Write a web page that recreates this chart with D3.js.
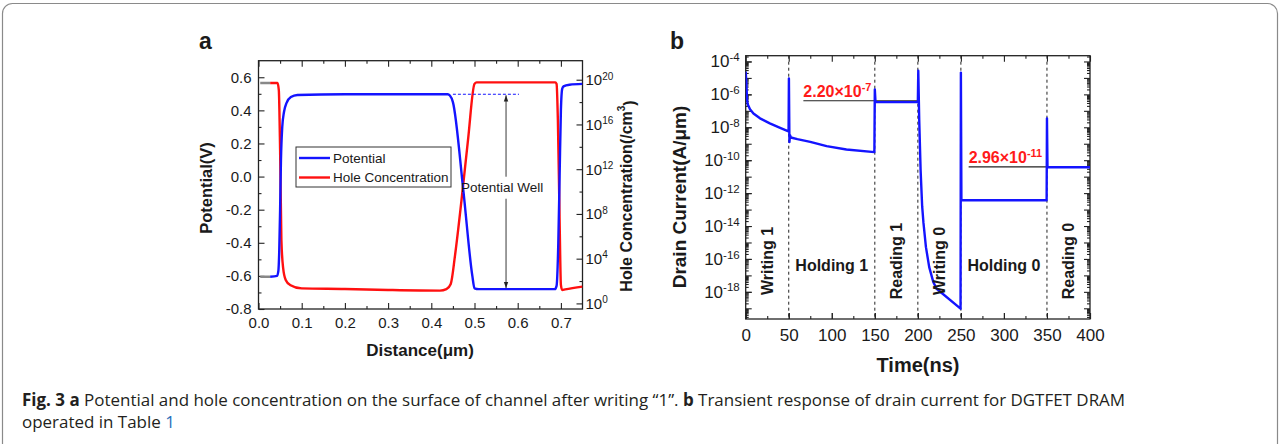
<!DOCTYPE html>
<html>
<head>
<meta charset="utf-8">
<script src="https://cdn.jsdelivr.net/npm/d3@7/dist/d3.min.js"></script>
<style>
  body { margin: 0; background: #fff; }
  svg { display: block; }
  text { font-family: Arial, "Liberation Sans", sans-serif; fill: #1a1a1a; }
</style>
</head>
<body>
<svg id="fig" width="1281" height="444"></svg>
<script>
// ---------- panel a : potential / hole concentration along the channel ----------
const potDist = [0.027, 0.043, 0.046, 0.048, 0.050, 0.052, 0.055, 0.059, 0.065, 0.075, 0.090, 0.200,
                 0.438, 0.443, 0.450, 0.474, 0.495, 0.500, 0.510, 0.686, 0.690, 0.694, 0.697, 0.700,
                 0.703, 0.706, 0.720, 0.750];
const potential = [-0.605, -0.600, -0.570, -0.450, -0.200, 0.100, 0.300, 0.390, 0.445, 0.480, 0.493, 0.497,
                   0.497, 0.490, 0.450, -0.080, -0.600, -0.675, -0.680, -0.680, -0.660, -0.400, 0.000, 0.400,
                   0.530, 0.545, 0.555, 0.560];
const holeDist = [0.027, 0.044, 0.047, 0.050, 0.053, 0.057, 0.063, 0.073, 0.100, 0.200, 0.300, 0.420,
                  0.435, 0.445, 0.455, 0.470, 0.485, 0.500, 0.505, 0.687, 0.690, 0.693, 0.697, 0.700,
                  0.703, 0.710, 0.750];
const holeConc = [5.1e19, 5.1e19, 1.2e19, 5.2e13, 4.7e5, 1.5e3, 123, 45, 22, 19.5, 16, 14,
                  19, 55, 2.1e4, 1.8e9, 4.2e14, 4.2e19, 5.8e19, 5.8e19, 4.2e19, 2.5e16, 2.9e7, 45,
                  16, 18, 32];
const sourceDist = [0.004, 0.027];
const sourceLevels = [0.565, -0.605];
const wellX = 0.573, wellTop = 0.497, wellBottom = -0.680;
const wellDash = [0.450, 0.603];
const xTicksA = [0, 0.1, 0.2, 0.3, 0.4, 0.5, 0.6, 0.7];
const xMinorA = d3.range(0.05, 0.75, 0.1);
const yTicksA = [-0.8, -0.6, -0.4, -0.2, 0, 0.2, 0.4, 0.6];
const yMinorA = [-0.7, -0.5, -0.3, -0.1, 0.1, 0.3, 0.5];
const holeExpTicks = [0, 4, 8, 12, 16, 20];
const holeExpMinor = [2, 6, 10, 14, 18];

// ---------- panel b : transient drain current ----------
const timeNs = [0, 0.8, 1.5, 2.5, 5, 9, 16.6, 28, 40, 49, 49.8, 50.2, 50.8, 51.5, 52.5, 60, 75, 94, 117, 149.5,
                150, 150.8, 200, 200.5, 201.6, 203.2, 205, 206.5, 209.4, 213.2, 217.9, 221.8, 249.6,
                250, 250.6, 349.6, 350, 350.6, 400];
const drainCurrent = [2.4e-5, 5e-6, 5e-7, 2.4e-7, 1.26e-7, 6.9e-8, 3.5e-8, 1.74e-8, 9.3e-9, 5.9e-9, 5.6e-9, 9.3e-6,
                      1.26e-9, 3.3e-9, 2.4e-9, 1.9e-9, 1.3e-9, 7.1e-10, 4.5e-10, 3.1e-10,
                      2e-6, 3.4e-7, 3.4e-7, 2.75e-5, 2.75e-8, 2.5e-11, 1.6e-13, 1.6e-14, 5.2e-16, 3.2e-17, 4e-18, 1.55e-18, 9.5e-20,
                      2.1e-5, 3.7e-13, 3.7e-13, 3.5e-8, 3.7e-11, 3.7e-11];
const phaseNames = ["Writing 1", "Holding 1", "Reading 1", "Writing 0", "Holding 0", "Reading 0"];
const phaseStart = [0, 50, 150, 200, 250, 350];
const phaseEnd = [50, 150, 200, 250, 350, 400];
const refStart = [67, 259];
const refEnd = [200, 400];
const refValue = [4.1e-7, 3.9e-11];
const refLabel = ["2.20×10", "2.96×10"];
const refExp = ["-7", "-11"];
const xTicksB = [0, 50, 100, 150, 200, 250, 300, 350, 400];
const xMinorB = [25, 75, 125, 175, 225, 275, 325, 375];
const yExpTicksB = [-18, -16, -14, -12, -10, -8, -6, -4];

const svg = d3.select("#fig");
svg.append("rect").attr("width", 1281).attr("height", 444).attr("fill", "#fff");
svg.append("rect").attr("x", 2.5).attr("y", 3.5).attr("width", 1275).attr("height", 480)
   .attr("rx", 10).attr("fill", "none").attr("stroke", "#8a8a8a").attr("stroke-width", 1.2);

const BLUE = "#1414ff", RED = "#ff1010";

// superscript labels "10^n"
function powLabel(sel, base, sup, supSize) {
  sel.text(null);
  sel.append("tspan").text(base);
  sel.append("tspan").attr("dy", "-0.55em").attr("font-size", supSize).text(sup);
}

// ===================== panel a =====================
const A = { l: 258.5, r: 582.5, t: 60.7, b: 309 };
const xA = d3.scaleLinear().domain([0, 0.75]).range([A.l, A.r]);
const yA = d3.scaleLinear().domain([-0.8, 0.7]).range([A.b, A.t]);
const yH = d3.scaleLog().domain([10 ** -0.5, 10 ** 21.7]).range([A.b, A.t]);

const ga = svg.append("g");
ga.append("defs").append("clipPath").attr("id", "clipA")
  .append("rect").attr("x", A.l).attr("y", A.t).attr("width", A.r - A.l).attr("height", A.b - A.t);

function styleAxis(g, size) {
  g.select(".domain").remove();
  g.selectAll("line").attr("stroke", "#222").attr("stroke-width", 1.1);
  g.selectAll("text").attr("font-size", size).attr("fill", "#1a1a1a")
   .attr("font-family", "Arial, 'Liberation Sans', sans-serif");
}

ga.append("g").attr("transform", `translate(${A.l},0)`)
  .call(d3.axisLeft(yA).tickValues(yTicksA).tickSize(-6).tickPadding(7).tickFormat(d => d.toFixed(1)))
  .call(g => styleAxis(g, 15));
ga.append("g").attr("transform", `translate(${A.l},0)`)
  .call(d3.axisLeft(yA).tickValues(yMinorA).tickSize(-3).tickFormat(""))
  .call(g => styleAxis(g, 15));
ga.append("g").attr("transform", `translate(0,${A.b})`)
  .call(d3.axisBottom(xA).tickValues(xTicksA).tickSize(-6).tickPadding(8.5).tickFormat(d => d.toFixed(1)))
  .call(g => styleAxis(g, 15));
ga.append("g").attr("transform", `translate(0,${A.b})`)
  .call(d3.axisBottom(xA).tickValues(xMinorA).tickSize(-3).tickFormat(""))
  .call(g => styleAxis(g, 15));
ga.append("g").attr("transform", `translate(0,${A.t})`)
  .call(d3.axisTop(xA).tickValues(xTicksA).tickSize(-6).tickFormat(""))
  .call(g => styleAxis(g, 15));
ga.append("g").attr("transform", `translate(0,${A.t})`)
  .call(d3.axisTop(xA).tickValues(xMinorA).tickSize(-3).tickFormat(""))
  .call(g => styleAxis(g, 15));
ga.append("g").attr("transform", `translate(${A.r},0)`)
  .call(d3.axisRight(yH).tickValues(holeExpTicks.map(e => 10 ** e)).tickSize(-6).tickPadding(3))
  .call(g => styleAxis(g, 15))
  .call(g => g.selectAll(".tick text").each(function (d, i) {
    powLabel(d3.select(this), "10", holeExpTicks[i], 10);
  }));
ga.append("g").attr("transform", `translate(${A.r},0)`)
  .call(d3.axisRight(yH).tickValues(holeExpMinor.map(e => 10 ** e)).tickSize(-3).tickFormat(""))
  .call(g => styleAxis(g, 15));

ga.append("rect").attr("x", A.l).attr("y", A.t).attr("width", A.r - A.l).attr("height", A.b - A.t)
  .attr("fill", "none").attr("stroke", "#222").attr("stroke-width", 1.3);

const plotA = ga.append("g").attr("clip-path", "url(#clipA)");
sourceLevels.forEach(v => {
  plotA.append("path")
    .attr("d", d3.line()(sourceDist.map(d => [xA(d), yA(v)])))
    .attr("stroke", "#888").attr("stroke-width", 2.4).attr("fill", "none");
});
plotA.append("path")
  .attr("d", d3.line().x((d, i) => xA(holeDist[i])).y(d => yH(d)).curve(d3.curveMonotoneX)(holeConc))
  .attr("stroke", RED).attr("stroke-width", 2.4).attr("fill", "none");
plotA.append("path")
  .attr("d", d3.line().x((d, i) => xA(potDist[i])).y(d => yA(d)).curve(d3.curveMonotoneX)(potential))
  .attr("stroke", BLUE).attr("stroke-width", 2.4).attr("fill", "none");

// potential well marker
ga.append("line").attr("x1", xA(wellDash[0])).attr("x2", xA(wellDash[1]))
  .attr("y1", yA(wellTop)).attr("y2", yA(wellTop))
  .attr("stroke", BLUE).attr("stroke-width", 1.1).attr("stroke-dasharray", "3,2");
const defs = svg.append("defs");
defs.append("marker").attr("id", "arr").attr("viewBox", "0 0 10 10").attr("refX", 10).attr("refY", 5)
  .attr("markerWidth", 7).attr("markerHeight", 7).attr("orient", "auto")
  .append("path").attr("d", "M0,1.5 L10,5 L0,8.5 Z").attr("fill", "#222");
const wTop = yA(wellTop), wBot = yA(wellBottom);
const wMid = (wTop + wBot) / 2 - 4;
ga.append("line").attr("x1", xA(wellX)).attr("x2", xA(wellX)).attr("y1", wMid - 11).attr("y2", wTop + 1)
  .attr("stroke", "#222").attr("stroke-width", 0.9).attr("marker-end", "url(#arr)");
ga.append("line").attr("x1", xA(wellX)).attr("x2", xA(wellX)).attr("y1", wMid + 11).attr("y2", wBot - 1)
  .attr("stroke", "#222").attr("stroke-width", 0.9).attr("marker-end", "url(#arr)");
ga.append("text").attr("x", xA(wellX) - 4).attr("y", wMid).attr("dy", "0.35em")
  .attr("text-anchor", "middle").attr("font-size", 13.5).text("Potential Well");

// legend
const lg = ga.append("g").attr("transform", "translate(296,147)");
lg.append("rect").attr("width", 155).attr("height", 40).attr("fill", "#fff")
  .attr("stroke", "#333").attr("stroke-width", 1);
[["Potential", BLUE], ["Hole Concentration", RED]].forEach(([name, c], i) => {
  const y = 11 + i * 19.5;
  lg.append("line").attr("x1", 3).attr("x2", 34).attr("y1", y).attr("y2", y)
    .attr("stroke", c).attr("stroke-width", 2.4);
  lg.append("text").attr("x", 37).attr("y", y).attr("dy", "0.35em").attr("font-size", 13.5).text(name);
});

// titles
ga.append("text").attr("x", 199).attr("y", 49).attr("font-size", 23).attr("font-weight", "bold").text("a");
ga.append("text").attr("transform", "translate(206,188) rotate(-90)").attr("text-anchor", "middle")
  .attr("dominant-baseline", "central").attr("font-size", 16.5).attr("font-weight", "bold").text("Potential(V)");
ga.append("text").attr("x", 420).attr("y", 350).attr("dy", "0.35em").attr("text-anchor", "middle")
  .attr("font-size", 17).attr("font-weight", "bold").text("Distance(μm)");
const ht = ga.append("text").attr("transform", "translate(626,196) rotate(-90)").attr("text-anchor", "middle")
  .attr("dominant-baseline", "central").attr("font-size", 16).attr("font-weight", "bold");
ht.append("tspan").text("Hole Concentration(/cm");
ht.append("tspan").attr("dy", "-0.5em").attr("font-size", 10).text("3");
ht.append("tspan").attr("dy", "0.5em").text(")");

// ===================== panel b =====================
const B = { l: 745.7, r: 1090, t: 55.7, b: 319 };
const xB = d3.scaleLinear().domain([0, 400]).range([B.l, B.r]);
const yB = d3.scaleLog().domain([10 ** -19.65, 10 ** -3.65]).range([B.b, B.t]);
const gb = svg.append("g");
gb.append("defs").append("clipPath").attr("id", "clipB")
  .append("rect").attr("x", B.l).attr("y", B.t).attr("width", B.r - B.l).attr("height", B.b - B.t);

const majorB = d3.range(-19, -3).map(e => 10 ** e);
const minorB = [];
d3.range(-20, -3).forEach(e => d3.range(2, 10).forEach(k => {
  const v = k * 10 ** e;
  if (v > 10 ** -19.65 && v < 10 ** -3.65) minorB.push(v);
}));

gb.append("g").attr("transform", `translate(${B.l},0)`)
  .call(d3.axisLeft(yB).tickValues(yExpTicksB.map(e => 10 ** e)).tickSize(-6).tickPadding(6))
  .call(g => styleAxis(g, 17))
  .call(g => g.selectAll(".tick text").each(function (d, i) {
    powLabel(d3.select(this), "10", yExpTicksB[i], 11.5);
  }));
[[majorB, -6], [minorB, -3]].forEach(([vals, s]) => {
  gb.append("g").attr("transform", `translate(${B.l},0)`)
    .call(d3.axisLeft(yB).tickValues(vals).tickSize(s).tickFormat(""))
    .call(g => styleAxis(g, 17));
  gb.append("g").attr("transform", `translate(${B.r},0)`)
    .call(d3.axisRight(yB).tickValues(vals).tickSize(s).tickFormat(""))
    .call(g => styleAxis(g, 17));
});
gb.append("g").attr("transform", `translate(0,${B.b})`)
  .call(d3.axisBottom(xB).tickValues(xTicksB).tickSize(-6).tickPadding(10))
  .call(g => styleAxis(g, 17));
[[xTicksB, -6], [xMinorB, -3]].forEach(([vals, s]) => {
  gb.append("g").attr("transform", `translate(0,${B.b})`)
    .call(d3.axisBottom(xB).tickValues(vals).tickSize(s).tickFormat(""))
    .call(g => styleAxis(g, 17));
  gb.append("g").attr("transform", `translate(0,${B.t})`)
    .call(d3.axisTop(xB).tickValues(vals).tickSize(s).tickFormat(""))
    .call(g => styleAxis(g, 17));
});

// phase boundaries
gb.selectAll(".phase").data(phaseStart.slice(1)).join("line")
  .attr("x1", d => xB(d)).attr("x2", d => xB(d)).attr("y1", B.t).attr("y2", B.b)
  .attr("stroke", "#222").attr("stroke-width", 1).attr("stroke-dasharray", "3,3");

gb.append("rect").attr("x", B.l).attr("y", B.t).attr("width", B.r - B.l).attr("height", B.b - B.t)
  .attr("fill", "none").attr("stroke", "#222").attr("stroke-width", 1.3);

// reference levels
refValue.forEach((v, i) => {
  gb.append("line").attr("x1", xB(refStart[i])).attr("x2", xB(refEnd[i]))
    .attr("y1", yB(v)).attr("y2", yB(v)).attr("stroke", "#222").attr("stroke-width", 1.2);
});

gb.append("g").attr("clip-path", "url(#clipB)").append("path")
  .attr("d", d3.line().x((d, i) => xB(timeNs[i])).y(d => yB(d))(drainCurrent))
  .attr("stroke", BLUE).attr("stroke-width", 2.4).attr("fill", "none").attr("stroke-linejoin", "round");

refValue.forEach((v, i) => {
  const t = gb.append("text").attr("x", xB(refStart[i])).attr("y", yB(v) - 4)
    .attr("font-size", 16).attr("font-weight", "bold").style("fill", "#ff1a1a");
  t.append("tspan").text(refLabel[i]);
  t.append("tspan").attr("dy", "-0.55em").attr("font-size", 11).text(refExp[i]);
});

// phase labels
phaseNames.forEach((name, i) => {
  const cx = xB((phaseStart[i] + phaseEnd[i]) / 2);
  const rotated = !name.startsWith("Holding");
  gb.append("text")
    .attr("transform", rotated ? `translate(${cx},261) rotate(-90)` : `translate(${cx},265)`)
    .attr("text-anchor", "middle").attr("dominant-baseline", "central")
    .attr("font-size", 16).attr("font-weight", "bold").text(name);
});

gb.append("text").attr("x", 670).attr("y", 48.5).attr("font-size", 23).attr("font-weight", "bold").text("b");
gb.append("text").attr("transform", "translate(679,197) rotate(-90)").attr("text-anchor", "middle")
  .attr("dominant-baseline", "central").attr("font-size", 19).attr("font-weight", "bold").text("Drain Current(A/μm)");
gb.append("text").attr("x", 918).attr("y", 365).attr("dy", "0.35em").attr("text-anchor", "middle")
  .attr("font-size", 20).attr("font-weight", "bold").text("Time(ns)");

// ===================== caption =====================
const capFont = "'Open Sans', 'Noto Sans', sans-serif";
const c1 = svg.append("text").attr("x", 22).attr("y", 406).attr("font-size", 17)
  .style("font-family", capFont).style("fill", "#231f20");
c1.append("tspan").attr("font-weight", "bold").text("Fig. 3 a");
c1.append("tspan").text(" Potential and hole concentration on the surface of channel after writing “1”. ");
c1.append("tspan").attr("font-weight", "bold").text("b");
c1.append("tspan").text(" Transient response of drain current for DGTFET DRAM");
const c2 = svg.append("text").attr("x", 22).attr("y", 428).attr("font-size", 17)
  .style("font-family", capFont).style("fill", "#231f20");
c2.append("tspan").text("operated in Table ");
c2.append("tspan").style("fill", "#2a6ebb").text("1");
// scale the caption so line 1 spans the same width as the original
const fs = 17 * 1104 / c1.node().getComputedTextLength();
c1.attr("font-size", fs);
c2.attr("font-size", fs);
</script>
</body>
</html>
